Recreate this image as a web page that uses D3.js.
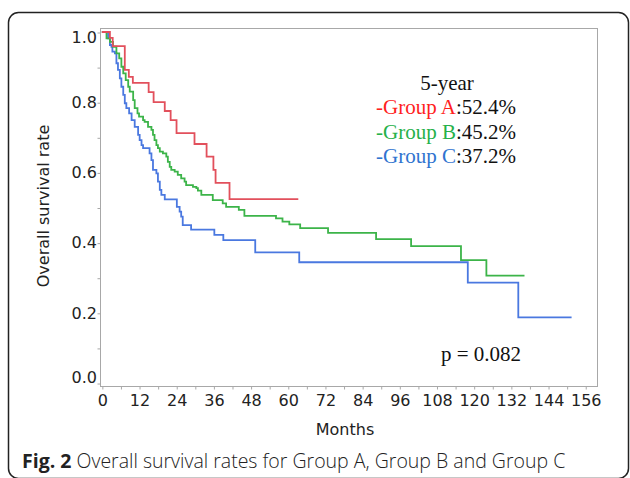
<!DOCTYPE html>
<html>
<head>
<meta charset="utf-8">
<script src="https://cdn.jsdelivr.net/npm/d3@7"></script>
<style>
  body { margin: 0; background: #fff; }
  svg { display: block; }
</style>
</head>
<body>
<div id="chart"></div>
<script>
// Group A (red)
const aMonths = [0, 2.6, 3.5, 7.4, 8.7, 10.0, 15.1, 16.7, 20.3, 22.2, 24.1, 29.9, 33.8, 36.0, 36.7, 41.2, 63.4];
const aSurv   = [1, 0.983, 0.960, 0.892, 0.872, 0.855, 0.829, 0.800, 0.775, 0.749, 0.712, 0.681, 0.645, 0.607, 0.570, 0.524, 0.524];

// Group B (green)
const bMonths = [0, 1.5, 2.6, 3.6, 4.7, 5.6, 6.3, 6.9, 7.7, 8.5, 9.0, 10.1, 10.6, 11.5, 12.0, 13.3, 13.8, 14.9, 16.0, 16.5, 17.0, 17.6, 18.1, 18.7, 19.7, 20.8, 21.3, 21.9, 22.4, 23.5, 24.5, 25.6, 26.7, 27.2, 29.4, 30.5, 31.0, 32.1, 35.8, 39.0, 40.1, 44.2, 46.0, 56.2, 58.3, 60.5, 64.0, 73.0, 88.5, 99.8, 115.9, 124.1, 136.4];
const bSurv   = [1, 0.982, 0.972, 0.958, 0.939, 0.925, 0.901, 0.882, 0.863, 0.844, 0.830, 0.806, 0.783, 0.768, 0.759, 0.749, 0.744, 0.730, 0.721, 0.707, 0.692, 0.678, 0.669, 0.659, 0.654, 0.645, 0.630, 0.616, 0.607, 0.602, 0.593, 0.583, 0.574, 0.564, 0.559, 0.555, 0.548, 0.536, 0.521, 0.512, 0.502, 0.493, 0.476, 0.469, 0.460, 0.452, 0.441, 0.428, 0.410, 0.390, 0.350, 0.306, 0.306];

// Group C (blue)
const cMonths = [0, 2.0, 2.6, 3.1, 3.4, 4.2, 4.7, 5.2, 5.8, 6.3, 6.9, 7.4, 7.9, 8.8, 9.6, 10.6, 11.7, 12.2, 12.8, 13.3, 15.4, 16.0, 16.5, 17.6, 18.1, 18.7, 19.2, 20.3, 24.2, 25.1, 25.6, 26.1, 28.8, 36.3, 39.2, 49.5, 63.7, 118.1, 134.4, 151.6];
const cSurv   = [1, 0.982, 0.963, 0.958, 0.944, 0.939, 0.911, 0.892, 0.868, 0.844, 0.821, 0.797, 0.783, 0.768, 0.749, 0.730, 0.707, 0.692, 0.678, 0.669, 0.654, 0.635, 0.607, 0.597, 0.574, 0.550, 0.536, 0.523, 0.502, 0.488, 0.474, 0.450, 0.437, 0.422, 0.407, 0.372, 0.344, 0.286, 0.187, 0.187];

const xTicks = [0, 12, 24, 36, 48, 60, 72, 84, 96, 108, 120, 132, 144, 156];
const yTicks = [0, 0.2, 0.4, 0.6, 0.8, 1.0];

const legendTitle = "5-year";
const legendNames = ["-Group A", "-Group B", "-Group C"];
const legendRates = [":52.4%", ":45.2%", ":37.2%"];
const colors = ["#e2505c", "#3cb449", "#4a78e0"];
const textColors = ["#ff1f1f", "#26b14a", "#2f74d0"];

const width = 630, height = 478;
const plot = { left: 100, top: 28, right: 597, bottom: 386 };

const svg = d3.select("#chart").append("svg")
    .attr("width", width)
    .attr("height", height);

// outer rounded frame
svg.append("rect")
    .attr("x", 8.5).attr("y", 12.5)
    .attr("width", 620).attr("height", 466)
    .attr("rx", 10)
    .attr("fill", "none")
    .attr("stroke", "#222")
    .attr("stroke-width", 1.5);

const x = d3.scaleLinear().domain([-0.6, 159.8]).range([plot.left, plot.right]);
const y = d3.scaleLinear().domain([-0.0085, 1.0114]).range([plot.bottom, plot.top]);

// plot frame
svg.append("rect")
    .attr("x", plot.left + 0.5).attr("y", plot.top + 0.5)
    .attr("width", plot.right - plot.left).attr("height", plot.bottom - plot.top)
    .attr("fill", "none")
    .attr("stroke", "#a8a8a8")
    .attr("stroke-width", 1);

// x axis
const xAxis = d3.axisBottom(x)
    .tickValues(d3.range(0, 157, 6))
    .tickSize(3)
    .tickFormat(d => xTicks.includes(d) ? d : "");
const gx = svg.append("g")
    .attr("transform", `translate(0.5,${plot.bottom + 0.5})`)
    .call(xAxis);
gx.select(".domain").remove();
gx.selectAll(".tick line").attr("stroke", "#a8a8a8");
gx.selectAll(".tick text")
    .attr("font-family", "DejaVu Sans, Verdana, sans-serif")
    .attr("font-size", 16)
    .attr("fill", "#222")
    .attr("y", 8);

// y axis
const yAxis = d3.axisLeft(y)
    .tickValues(d3.range(0, 11).map(i => i / 10))
    .tickSize(3)
    .tickFormat(d => "");
const gy = svg.append("g")
    .attr("transform", `translate(${plot.left + 0.5},0.5)`)
    .call(yAxis);
gy.select(".domain").remove();
gy.selectAll(".tick line").attr("stroke", "#a8a8a8");

svg.append("g").selectAll("text")
    .data(yTicks)
    .join("text")
    .attr("x", 97)
    .attr("y", d => Math.min(Math.max(y(d), 37), 377))
    .attr("dy", "0.36em")
    .attr("text-anchor", "end")
    .attr("font-family", "DejaVu Sans, Verdana, sans-serif")
    .attr("font-size", 16)
    .attr("fill", "#222")
    .text(d => d.toFixed(1));

// axis titles
svg.append("text")
    .attr("x", 345).attr("y", 435)
    .attr("text-anchor", "middle")
    .attr("font-family", "DejaVu Sans, Verdana, sans-serif")
    .attr("font-size", 16)
    .attr("fill", "#222")
    .text("Months");

svg.append("text")
    .attr("transform", "translate(49,206) rotate(-90)")
    .attr("text-anchor", "middle")
    .attr("font-family", "DejaVu Sans, Verdana, sans-serif")
    .attr("font-size", 16)
    .attr("fill", "#222")
    .text("Overall survival rate");

// survival curves
const line = d3.line()
    .x(d => x(d[0]))
    .y(d => y(d[1]))
    .curve(d3.curveStepAfter);

const series = [
    d3.zip(aMonths, aSurv),
    d3.zip(bMonths, bSurv),
    d3.zip(cMonths, cSurv)
];

// draw C, B, then A on top
[2, 1, 0].forEach(i => {
    svg.append("path")
        .datum(series[i])
        .attr("d", line)
        .attr("fill", "none")
        .attr("stroke", colors[i])
        .attr("stroke-width", 1.8)
        .attr("stroke-linejoin", "miter");
});

// legend
const serif = "Liberation Serif, Times New Roman, serif";
svg.append("text")
    .attr("x", 447).attr("y", 90)
    .attr("text-anchor", "middle")
    .attr("font-family", serif)
    .attr("font-size", 21)
    .attr("fill", "#111")
    .text(legendTitle);

const leg = svg.append("g").selectAll("text")
    .data(legendNames)
    .join("text")
    .attr("x", 376)
    .attr("y", (d, i) => 114 + i * 24.5)
    .attr("font-family", serif)
    .attr("font-size", 21);
leg.append("tspan")
    .attr("fill", (d, i) => textColors[i])
    .text(d => d);
leg.append("tspan")
    .attr("fill", "#111")
    .text((d, i) => legendRates[i]);

svg.append("text")
    .attr("x", 441).attr("y", 361)
    .attr("font-family", serif)
    .attr("font-size", 21)
    .attr("fill", "#111")
    .text("p = 0.082");

// caption
const cap = svg.append("text")
    .attr("x", 22).attr("y", 468)
    .attr("font-family", "Open Sans, Noto Sans, sans-serif")
    .attr("font-size", 19.5)
    .attr("fill", "#222");
cap.append("tspan").attr("font-weight", "bold").text("Fig. 2");
cap.append("tspan").attr("font-weight", 300).text(" Overall survival rates for Group A, Group B and Group C");
</script>
</body>
</html>
